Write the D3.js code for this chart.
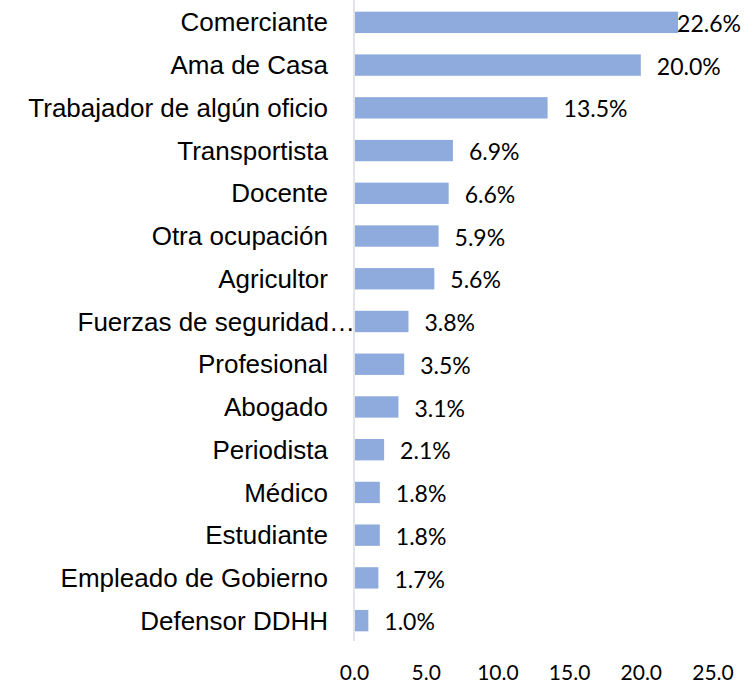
<!DOCTYPE html>
<html>
<head>
<meta charset="utf-8">
<script src="https://cdn.jsdelivr.net/npm/d3@7"></script>
<style>
  body { margin: 0; background: #fff; }
</style>
</head>
<body>
<div id="chart"></div>
<script>
// occupations and percentages, top to bottom
const categories = [
  "Comerciante", "Ama de Casa", "Trabajador de algún oficio", "Transportista",
  "Docente", "Otra ocupación", "Agricultor", "Fuerzas de seguridad…",
  "Profesional", "Abogado", "Periodista", "Médico", "Estudiante",
  "Empleado de Gobierno", "Defensor DDHH"
];
const values = [22.6, 20.0, 13.5, 6.9, 6.6, 5.9, 5.6, 3.8, 3.5, 3.1, 2.1, 1.8, 1.8, 1.7, 1.0];
const tickValues = [0, 5, 10, 15, 20, 25];

const width = 755, height = 687;

const svg = d3.select("#chart")
  .append("svg")
  .attr("width", width)
  .attr("height", height);

const x = d3.scaleLinear().domain([0, 25]).range([354, 712.5]);
const y = d3.scaleBand().domain(categories).range([1, 642])
  .paddingInner(0.5).paddingOuter(0.25);

// bars
svg.selectAll(".bar")
  .data(values)
  .enter().append("rect")
  .attr("class", "bar")
  .attr("x", x(0) + 1)
  .attr("y", (d, i) => y(categories[i]))
  .attr("width", d => x(d) - x(0) - 1)
  .attr("height", y.bandwidth())
  .style("fill", "#8faadc");

// vertical axis line
svg.append("line")
  .attr("x1", x(0)).attr("x2", x(0))
  .attr("y1", 0).attr("y2", 641)
  .style("stroke", "#d9dbe1")
  .style("stroke-width", 1.5);

// category labels (truncated ones run up to the axis, like excel does)
svg.selectAll(".cat")
  .data(categories)
  .enter().append("text")
  .attr("class", "cat")
  .attr("x", d => d.endsWith("…") ? x(0) + 1 : 328)
  .attr("y", d => y(d) + y.bandwidth() / 2)
  .attr("dy", "0.35em")
  .attr("text-anchor", "end")
  .style("font-family", "'Liberation Sans', Arial, sans-serif")
  .style("font-size", "26px")
  .style("fill", "#000")
  .text(d => d);

// value labels (kept inside the chart area on the right)
svg.selectAll(".val")
  .data(values)
  .enter().append("text")
  .attr("class", "val")
  .attr("y", (d, i) => y(categories[i]) + y.bandwidth() / 2)
  .attr("dy", "0.42em")
  .style("font-family", "Lato, 'Open Sans', sans-serif")
  .style("font-size", "23px")
  .style("fill", "#000")
  .text(d => d.toFixed(1) + "%")
  .attr("x", function(d) {
    const w = this.getComputedTextLength();
    return Math.min(x(d) + 16, 741 - w);
  });

// bottom axis (labels only)
const xAxis = d3.axisBottom(x).tickValues(tickValues).tickFormat(d3.format(".1f")).tickSize(0);
const gx = svg.append("g")
  .attr("transform", "translate(0, 662)")
  .call(xAxis);
gx.select(".domain").remove();
gx.selectAll("text")
  .style("font-family", "Lato, 'Open Sans', sans-serif")
  .style("font-size", "21px")
  .style("fill", "#000");
</script>
</body>
</html>
